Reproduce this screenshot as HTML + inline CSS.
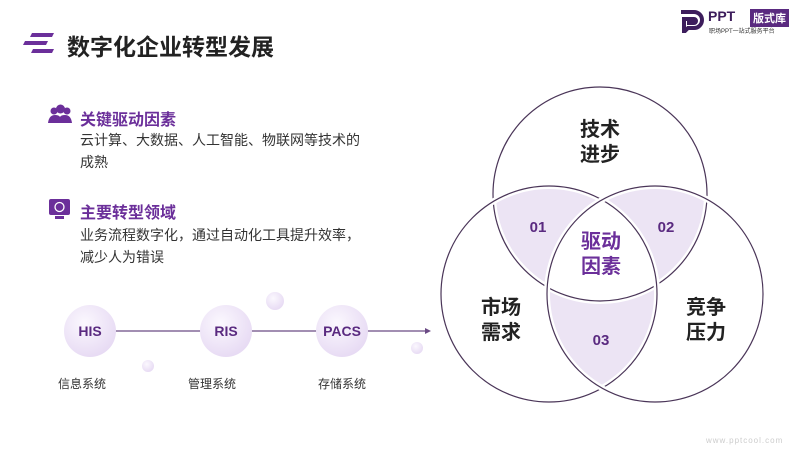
<!DOCTYPE html>
<html><head><meta charset="utf-8"><style>
body{margin:0;width:800px;height:450px;background:#fff;position:relative;overflow:hidden;font-family:"Liberation Sans","Noto Sans CJK SC",sans-serif}
.a{position:absolute;white-space:nowrap}
.h{color:#6b2f9a;font-size:16px;font-weight:bold}
.b{color:#333;font-size:14px;line-height:22px}
</style></head><body>
<svg class="a" style="left:0;top:0" width="800" height="450">
<defs>
<radialGradient id="g" cx="40%" cy="35%" r="70%"><stop offset="0" stop-color="#fbf8fe"/><stop offset="1" stop-color="#e6d9f3"/></radialGradient>
<clipPath id="cT"><circle cx="600" cy="194" r="107"/></clipPath>
<clipPath id="cL"><circle cx="549" cy="294" r="108"/></clipPath>
</defs>
<polygon points="32,33 54,33 52,37 30,37" fill="#6b2f9a"/>
<polygon points="25,41 48,41 46,45 23,45" fill="#6b2f9a"/>
<polygon points="33,49 54,49 52,53 31,53" fill="#6b2f9a"/>
<circle cx="54" cy="111" r="3.5" fill="#6b2f9a"/><circle cx="67" cy="111" r="3.5" fill="#6b2f9a"/><circle cx="60.5" cy="109" r="4.5" fill="#6b2f9a"/>
<path d="M48 123 q1-8 7-8 q4 0 5 2 q1-2 5-2 q6 0 7 8z" fill="#6b2f9a"/>
<rect x="49" y="199" width="21" height="16" rx="2" fill="#6b2f9a"/><rect x="55" y="216" width="9" height="3" fill="#6b2f9a"/>
<circle cx="59.5" cy="207" r="4.5" fill="none" stroke="#fff" stroke-width="1.3"/>
<line x1="114" y1="331" x2="425" y2="331" stroke="#6b4a85" stroke-width="1.2"/>
<polygon points="425,328 431,331 425,334" fill="#6b4a85"/>
<circle cx="90" cy="331" r="26" fill="url(#g)"/><circle cx="226" cy="331" r="26" fill="url(#g)"/><circle cx="342" cy="331" r="26" fill="url(#g)"/>
<circle cx="275" cy="301" r="9" fill="url(#g)"/><circle cx="148" cy="366" r="6" fill="url(#g)"/><circle cx="417" cy="348" r="6" fill="url(#g)"/>
<g font-family="Liberation Sans,sans-serif" font-weight="bold" font-size="14" fill="#5a2a80" text-anchor="middle">
<text x="90" y="336">HIS</text><text x="226" y="336">RIS</text><text x="342" y="336">PACS</text></g>
<g fill="#ece4f4">
<circle cx="549" cy="294" r="108" clip-path="url(#cT)"/>
<circle cx="655" cy="294" r="108" clip-path="url(#cT)"/>
<circle cx="655" cy="294" r="108" clip-path="url(#cL)"/>
</g>
<g clip-path="url(#cL)"><circle cx="655" cy="294" r="108" fill="#fff" clip-path="url(#cT)"/></g>
<g fill="none">
<circle cx="600" cy="194" r="107" stroke="#fff" stroke-width="6"/><circle cx="600" cy="194" r="107" stroke="#4a3558" stroke-width="1.2"/>
<circle cx="549" cy="294" r="108" stroke="#fff" stroke-width="6"/><circle cx="549" cy="294" r="108" stroke="#4a3558" stroke-width="1.2"/>
<circle cx="655" cy="294" r="108" stroke="#fff" stroke-width="6"/><circle cx="655" cy="294" r="108" stroke="#4a3558" stroke-width="1.2"/>
</g>
<g font-family="Liberation Sans,sans-serif" font-weight="bold" font-size="15" fill="#5a2a80" text-anchor="middle">
<text x="538" y="232">01</text><text x="666" y="232">02</text><text x="601" y="345">03</text></g>
</svg>
<div class="a" style="left:67px;top:28px;font-size:23px;font-weight:bold;color:#222">数字化企业转型发展</div>
<div class="a h" style="left:80px;top:106px">关键驱动因素</div>
<div class="a b" style="left:80px;top:129px">云计算、大数据、人工智能、物联网等技术的<br>成熟</div>
<div class="a h" style="left:80px;top:199px">主要转型领域</div>
<div class="a b" style="left:80px;top:224px">业务流程数字化，通过自动化工具提升效率，<br>减少人为错误</div>
<div class="a" style="left:58px;top:375px;font-size:12px;color:#333">信息系统</div>
<div class="a" style="left:188px;top:375px;font-size:12px;color:#333">管理系统</div>
<div class="a" style="left:318px;top:375px;font-size:12px;color:#333">存储系统</div>
<div class="a" style="left:580px;top:118px;font-size:20px;font-weight:bold;color:#222;line-height:25px;text-align:center">技术<br>进步</div>
<div class="a" style="left:581px;top:230px;font-size:20px;font-weight:bold;color:#6b2f9a;line-height:25px">驱动<br>因素</div>
<div class="a" style="left:481px;top:296px;font-size:20px;font-weight:bold;color:#222;line-height:25px">市场<br>需求</div>
<div class="a" style="left:686px;top:296px;font-size:20px;font-weight:bold;color:#222;line-height:25px">竞争<br>压力</div>
<svg class="a" style="left:678px;top:9px" width="30" height="24"><path d="M3 3 H16 a8 8 0 0 1 0 16 H10 l-4 4 V10 H16 a2 2 0 0 1 0 4 H11 V8" fill="none" stroke="#3d1d5c" stroke-width="4"/></svg>
<div class="a" style="left:708px;top:8px;font-size:14px;font-weight:bold;color:#3d1d5c">PPT</div>
<div class="a" style="left:750px;top:9px;font-size:11px;font-weight:bold;color:#fff;background:#5a2a80;padding:1px 3px">版式库</div>
<div class="a" style="left:709px;top:26px;font-size:6px;color:#333">职场PPT一站式服务平台</div>
<div class="a" style="left:706px;top:436px;font-size:8px;color:#ccc;letter-spacing:1px">www.pptcool.com</div>
</body></html>
